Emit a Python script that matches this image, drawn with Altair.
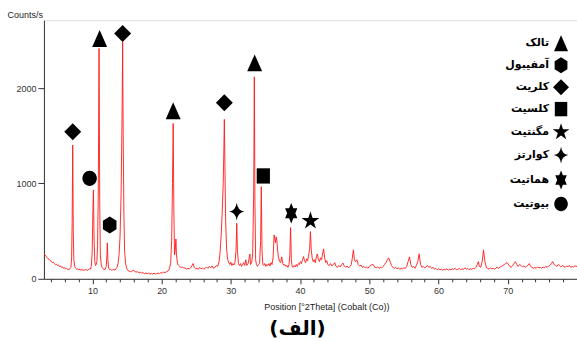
import altair as alt
import pandas as pd

# ---- XRD trace (2theta in degrees, counts/s) ----
two_theta = [3.0,3.15,3.3,3.45,3.6,3.75,3.9,4.05,4.2,4.35,4.5,4.65,4.8,4.95,5.1,5.25,5.4,5.55,5.7,5.85,6.0,6.15,6.3,6.45,6.6,6.75,6.9,7.0,7.08,7.16,7.24,7.32,7.45,7.6,7.75,7.9,8.05,8.2,8.35,8.5,8.65,8.8,8.95,9.1,9.25,9.4,9.55,9.7,9.85,9.98,10.07,10.15,10.25,10.35,10.45,10.55,10.65,10.75,10.85,10.96,11.06,11.15,11.28,11.4,11.55,11.7,11.85,12.0,12.1,12.16,12.24,12.35,12.5,12.65,12.8,12.95,13.1,13.25,13.4,13.55,13.7,13.85,14.0,14.15,14.3,14.37,14.45,14.55,14.65,14.8,14.95,15.1,15.3,15.5,15.7,15.9,16.1,16.3,16.5,16.7,16.9,17.1,17.3,17.5,17.7,17.9,18.1,18.3,18.5,18.7,18.9,19.1,19.3,19.5,19.7,19.9,20.1,20.3,20.5,20.7,20.9,21.1,21.3,21.45,21.57,21.67,21.77,21.87,21.97,22.06,22.15,22.3,22.45,22.6,22.8,23.0,23.2,23.4,23.6,23.8,24.0,24.2,24.4,24.55,24.7,24.9,25.1,25.3,25.5,25.7,25.9,26.1,26.3,26.5,26.7,26.9,27.1,27.3,27.5,27.7,27.9,28.1,28.3,28.45,28.6,28.75,28.9,29.0,29.06,29.14,29.25,29.4,29.55,29.7,29.85,30.0,30.15,30.3,30.45,30.6,30.75,30.85,30.95,31.1,31.25,31.4,31.55,31.7,31.85,32.0,32.15,32.3,32.5,32.65,32.75,32.85,33.0,33.15,33.3,33.39,33.48,33.58,33.7,33.85,34.0,34.15,34.3,34.4,34.5,34.62,34.75,34.9,35.05,35.2,35.35,35.5,35.65,35.8,35.95,36.1,36.25,36.35,36.45,36.55,36.65,36.75,36.9,37.05,37.2,37.35,37.5,37.65,37.8,37.95,38.1,38.25,38.4,38.52,38.63,38.74,38.85,39.0,39.15,39.3,39.45,39.6,39.75,39.9,40.05,40.2,40.35,40.5,40.65,40.8,40.95,41.1,41.25,41.38,41.5,41.62,41.75,41.9,42.05,42.2,42.35,42.5,42.65,42.8,42.95,43.1,43.25,43.4,43.55,43.7,43.85,44.0,44.2,44.4,44.6,44.8,45.0,45.2,45.4,45.6,45.8,46.0,46.2,46.4,46.6,46.8,47.0,47.2,47.4,47.55,47.7,47.85,48.0,48.2,48.4,48.6,48.8,49.0,49.2,49.4,49.6,49.8,50.0,50.2,50.4,50.6,50.8,51.0,51.2,51.4,51.6,51.8,52.0,52.2,52.4,52.6,52.8,53.0,53.2,53.4,53.6,53.8,54.0,54.2,54.4,54.6,54.8,55.0,55.2,55.4,55.6,55.8,56.0,56.2,56.4,56.6,56.8,57.0,57.2,57.4,57.6,57.8,58.0,58.2,58.4,58.6,58.8,59.0,59.2,59.4,59.6,59.8,60.0,60.2,60.4,60.6,60.8,61.0,61.2,61.4,61.6,61.8,62.0,62.2,62.4,62.6,62.8,63.0,63.2,63.4,63.6,63.8,64.0,64.2,64.4,64.6,64.8,65.0,65.2,65.4,65.6,65.75,65.9,66.1,66.3,66.5,66.7,66.9,67.1,67.3,67.5,67.7,67.9,68.1,68.3,68.5,68.7,68.9,69.1,69.3,69.5,69.7,69.9,70.1,70.3,70.5,70.7,70.9,71.1,71.3,71.5,71.7,71.9,72.1,72.3,72.5,72.7,72.9,73.1,73.3,73.5,73.7,73.9,74.1,74.3,74.5,74.7,74.9,75.1,75.3,75.5,75.7,75.9,76.1,76.3,76.5,76.7,76.9,77.1,77.3,77.5,77.7,77.9,78.1,78.3,78.5,78.7,78.9,79.1,79.3,79.5,79.7,80.0]
counts = [270,250,235,225,210,205,190,185,170,175,160,150,155,140,145,130,135,120,125,110,115,105,110,95,100,105,120,220,600,1403,500,200,130,110,100,105,95,100,90,98,88,95,90,100,88,95,105,100,130,300,700,932,400,180,140,150,180,350,900,2416,800,250,150,120,105,95,100,130,250,377,200,110,95,100,90,95,100,90,105,120,160,250,450,900,1800,2485,1500,700,300,160,110,90,80,75,80,90,80,70,75,65,70,60,65,55,60,55,60,50,55,50,58,50,55,60,55,65,60,70,65,75,80,100,160,400,1000,1630,700,250,300,418,250,160,140,130,120,125,110,115,100,110,105,115,140,160,120,105,110,100,120,105,115,100,110,125,110,130,115,135,110,120,140,130,180,280,450,700,1000,1400,1672,1200,600,300,200,170,150,175,140,160,145,170,300,583,300,160,140,160,130,150,170,140,200,140,160,220,260,150,170,250,900,2118,800,200,150,130,150,160,400,967,300,150,140,160,130,150,140,160,135,170,150,220,460,420,380,440,400,300,220,180,170,230,160,140,150,130,140,120,150,250,537,200,130,120,140,125,150,130,160,150,180,160,200,233,190,170,210,190,250,320,495,300,220,180,200,170,230,260,200,180,220,200,260,314,220,170,190,150,140,160,135,150,170,130,120,140,125,150,165,130,120,135,115,130,150,220,304,200,180,200,150,135,145,120,130,115,125,110,130,140,150,147,120,115,125,110,120,115,130,150,170,200,220,180,140,120,110,120,105,115,100,110,105,115,110,130,180,230,150,120,130,110,140,180,262,150,120,130,115,125,140,120,130,110,120,100,110,95,105,95,100,90,100,95,105,90,100,95,105,100,110,95,100,110,95,105,100,115,100,110,95,105,100,110,105,120,150,180,130,120,180,304,180,120,110,100,115,105,110,100,115,120,110,125,130,140,150,160,170,150,130,120,140,160,180,150,130,150,140,125,135,120,130,140,160,130,120,110,120,110,125,115,120,110,125,115,130,120,135,140,160,180,150,140,130,150,140,125,140,130,120,135,125,140,120,130,125,135,130]

# ---- phase markers above the peaks ----
minerals = ["تالک", "آمفیبول", "کلریت", "کلسیت", "مگنتیت", "کوارتز", "هماتیت", "بیوتیت"]
marker_mineral = ["کلریت", "بیوتیت", "تالک", "آمفیبول", "کلریت", "تالک", "کلریت", "کوارتز", "تالک", "کلسیت", "هماتیت", "مگنتیت"]
marker_theta = [7.16, 9.6, 11.05, 12.5, 14.37, 21.67, 29.06, 30.85, 33.44, 34.69, 38.72, 41.5]
marker_counts = [1542, 1054, 2520, 565, 2572, 1762, 1846, 705, 2265, 1079, 688, 607]

# axis tick values
x_ticks = list(range(4, 79, 2))
y_ticks = [0, 1000, 2000]

# symbol outlines (unit box)
shapes = [
    "M0,-1 L0.88,1 L-0.88,1 Z",                                   # triangle
    "M0,-1 L0.8,-0.5 L0.8,0.5 L0,1 L-0.8,0.5 L-0.8,-0.5 Z",       # hexagon
    "M0,-1 L1,0 L0,1 L-1,0 Z",                                     # diamond
    "M-0.78,-0.9 L0.78,-0.9 L0.78,0.9 L-0.78,0.9 Z",               # square
    "M0,-1.1 L0.25,-0.34 L1.05,-0.34 L0.4,0.13 L0.65,0.89 L0,0.42 L-0.65,0.89 L-0.4,0.13 L-1.05,-0.34 L-0.25,-0.34 Z",  # star
    "M0,-1.05 Q0.12,-0.12 0.9,0 Q0.12,0.12 0,1.05 Q-0.12,0.12 -0.9,0 Q-0.12,-0.12 0,-1.05 Z",  # 4-point star
    "M0,-1.2 L0.72,0.6 L-0.72,0.6 Z M0,1.2 L-0.72,-0.6 L0.72,-0.6 Z",  # hexagram
    "M0.85,0 A0.85,0.9 0 1,1 -0.85,0 A0.85,0.9 0 1,1 0.85,0 Z",    # circle
]

trace = pd.DataFrame({"theta": two_theta, "counts": counts})
marks = pd.DataFrame({"mineral": marker_mineral, "theta": marker_theta, "counts": marker_counts})

xscale = alt.Scale(domain=[3, 80], nice=False, zero=False)
yscale = alt.Scale(domain=[0, 2712], nice=False)

x_axis = alt.Axis(
    values=x_ticks, format="d", labelOverlap=False, labelFlush=False,
    labelExpr="datum.value % 10 === 0 ? datum.label : ''",
    tickSize={"condition": {"test": "datum.value % 10 === 0", "value": 5}, "value": 3},
    grid=False, labelFontSize=9, labelColor="#333", labelFont="Liberation Sans",
    domainColor="#333", tickColor="#333", labelPadding=3,
    title="Position [°2Theta] (Cobalt (Co))", titleFontSize=9, titleFontWeight="normal",
    titleFont="Liberation Sans", titleColor="#222", titleX=283, titleY=31,
    titleBaseline="alphabetic", titleAlign="center")
y_axis = alt.Axis(
    values=y_ticks, format="d", labelOverlap=False, grid=False, tickSize=6,
    labelFontSize=9, labelColor="#333",
    labelFont="Liberation Sans", domainColor="#333", tickColor="#333", labelPadding=2,
    title="Counts/s", titleAngle=0, titleAlign="left", titleBaseline="alphabetic",
    titleX=-37, titleY=-3, titleFontSize=9, titleFontWeight="normal",
    titleFont="Liberation Sans", titleColor="#222")

line = alt.Chart(trace).mark_line(color="#ff1a1a", strokeWidth=0.9, clip=True).encode(
    x=alt.X("theta:Q", scale=xscale, axis=x_axis),
    y=alt.Y("counts:Q", scale=yscale, axis=y_axis),
)

points = alt.Chart(marks).mark_point(filled=True, opacity=1, size=289, strokeWidth=0).encode(
    x=alt.X("theta:Q", scale=xscale, axis=x_axis),
    y=alt.Y("counts:Q", scale=yscale, axis=y_axis),
    shape=alt.Shape("mineral:N", scale=alt.Scale(domain=minerals, range=shapes),
                    legend=alt.Legend(title=None, orient="none", legendX=510, legendY=15,
                                      symbolSize=256, symbolFillColor="black", symbolStrokeWidth=0,
                                      labelAlign="right", labelOffset=alt.ExprRef("-20"),
                                      labelFont="DejaVu Sans", labelFontWeight="bold",
                                      labelFontSize=11, labelColor="black", rowPadding=6,
                                      padding=0, labelLimit=200)),
    color=alt.value("black"),
)

chart = alt.layer(line, points).properties(
    width=534, height=259,
    title=alt.TitleParams("(الف)", orient="bottom", fontSize=20, fontWeight="bold",
                          font="DejaVu Sans", color="black", offset=7, dx=-13),
    autosize=alt.AutoSizeParams(type="none"),
    padding={"left": 44, "top": 20, "right": 0, "bottom": 62},
).configure_view(stroke="#444", strokeWidth=1.5).configure(background="white")

chart.save("out.html", embed_options={"renderer": "svg", "actions": False})
